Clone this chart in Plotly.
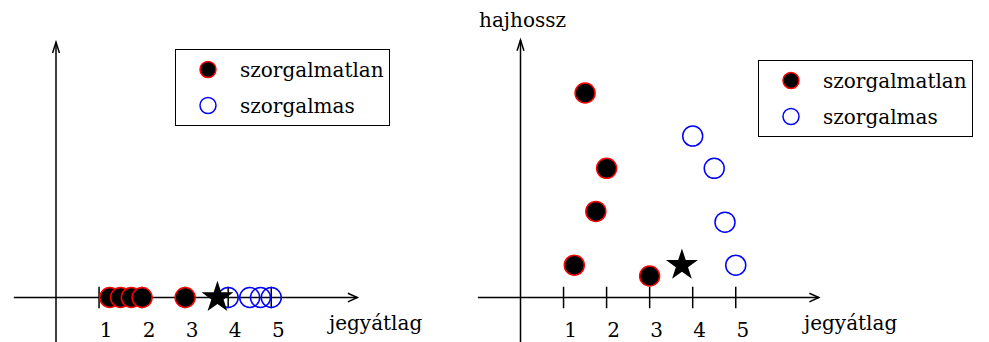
import plotly.graph_objects as go

# jegyátlag (grade average) and hajhossz (hair length) per student
lazy_grade = [1.25, 1.5, 1.75, 2.0, 3.0]
lazy_hair = [0.75, 4.75, 2.0, 3.0, 0.5]
diligent_grade = [4.0, 4.5, 4.75, 5.0]
diligent_hair = [3.75, 3.0, 1.75, 0.75]
query_grade = [3.75]
query_hair = [0.75]

tick_vals = [1, 2, 3, 4, 5]
tick_text = ["1", "2", "3", "4", "5"]

lazy_name = "szorgalmatlan"
diligent_name = "szorgalmas"
x_title = "jegyátlag"
y_title = "hajhossz"

W, H = 989, 342
SCALE = 43.05          # pixels per data unit, both panels
Y0_PX = 297.5          # pixel row of the horizontal axis
FONT = "DejaVu Serif"

yrange = [-(H - Y0_PX) / SCALE, Y0_PX / SCALE]


def xr(px0, px1, origin):
    return [(px0 - origin) / SCALE, (px1 - origin) / SCALE]


fig = go.Figure()

lazy_marker = dict(symbol="circle", size=20, color="black",
                   line=dict(color="red", width=1.5))
diligent_marker = dict(symbol="circle-open", size=20, color="blue",
                       line=dict(color="blue", width=1.5))
star_marker = dict(symbol="star", size=24, color="black",
                   line=dict(color="black", width=0))

# left panel: one-dimensional view (grades only)
fig.add_trace(go.Scatter(x=lazy_grade, y=[0] * len(lazy_grade), mode="markers",
                         marker=lazy_marker, name=lazy_name, xaxis="x", yaxis="y",
                         legend="legend", legendgroup="a", cliponaxis=False))
fig.add_trace(go.Scatter(x=diligent_grade, y=[0] * len(diligent_grade), mode="markers",
                         marker=diligent_marker, name=diligent_name, xaxis="x", yaxis="y",
                         legend="legend", legendgroup="b", cliponaxis=False))
fig.add_trace(go.Scatter(x=query_grade, y=[0] * len(query_grade), mode="markers",
                         marker=star_marker, showlegend=False, xaxis="x", yaxis="y",
                         cliponaxis=False))

# right panel: grade vs hair length
fig.add_trace(go.Scatter(x=lazy_grade, y=lazy_hair, mode="markers",
                         marker=lazy_marker, name=lazy_name, xaxis="x2", yaxis="y2",
                         legend="legend2", legendgroup="c", cliponaxis=False))
fig.add_trace(go.Scatter(x=diligent_grade, y=diligent_hair, mode="markers",
                         marker=diligent_marker, name=diligent_name, xaxis="x2", yaxis="y2",
                         legend="legend2", legendgroup="d", cliponaxis=False))
fig.add_trace(go.Scatter(x=query_grade, y=query_hair, mode="markers",
                         marker=star_marker, showlegend=False, xaxis="x2", yaxis="y2",
                         cliponaxis=False))

axis_pos = 1 - Y0_PX / H
common_x = dict(showgrid=False, zeroline=False, showline=False, ticks="",
                tickvals=tick_vals, ticktext=tick_text, anchor="free",
                position=axis_pos, ticklabelshift=7, ticklabelstandoff=18,
                tickfont=dict(family=FONT, size=20, color="black"),
                automargin=False, fixedrange=True)
common_y = dict(visible=False, range=yrange, domain=[0, 1], fixedrange=True,
                automargin=False)

legend_style = dict(xanchor="left", yanchor="top", bgcolor="white",
                    bordercolor="black", borderwidth=1,
                    font=dict(family=FONT, size=20, color="black"),
                    itemwidth=54, tracegroupgap=7)

fig.update_layout(
    width=W, height=H, margin=dict(l=0, r=0, t=0, b=0, autoexpand=False),
    paper_bgcolor="white", plot_bgcolor="rgba(0,0,0,0)",
    xaxis=dict(common_x, domain=[0, 440 / W], range=xr(0, 440, 56)),
    yaxis=common_y,
    xaxis2=dict(common_x, domain=[450 / W, 1], range=xr(450, W, 520.5)),
    yaxis2=dict(common_y, anchor="x2"),
    legend=dict(legend_style, x=175 / W, y=1 - 49 / H),
    legend2=dict(legend_style, x=758 / W, y=1 - 60 / H),
)

LINE = dict(color="black", width=1.5)


def draw_axes(xref, yref, x_start, x_end, y_bottom, y_top):
    # horizontal axis with open arrowhead
    fig.add_shape(type="line", xref=xref, yref=yref, x0=x_start, y0=0, x1=x_end, y1=0,
                  line=LINE, layer="below")
    fig.add_shape(type="path", xref=xref, yref=yref, layer="below", line=LINE,
                  path=f"M {x_end - 0.22},{0.1} L {x_end},0 L {x_end - 0.22},{-0.1}")
    # vertical axis with open arrowhead
    fig.add_shape(type="line", xref=xref, yref=yref, x0=0, y0=y_bottom, x1=0, y1=y_top,
                  line=LINE, layer="below")
    fig.add_shape(type="path", xref=xref, yref=yref, layer="below", line=LINE,
                  path=f"M {-0.08},{y_top - 0.25} L 0,{y_top} L {0.08},{y_top - 0.25}")
    # tick marks crossing the horizontal axis
    for t in tick_vals:
        fig.add_shape(type="line", xref=xref, yref=yref, x0=t, y0=-0.25, x1=t, y1=0.25,
                      line=LINE, layer="below")


draw_axes("x", "y", -0.98, 7.0, yrange[0], 5.93)
draw_axes("x2", "y2", -0.99, 6.93, yrange[0], 5.98)

title_font = dict(family=FONT, size=20, color="black")
fig.add_annotation(x=6.25, y=-0.6, xref="x", yref="y", text=x_title, showarrow=False,
                   xanchor="left", yanchor="middle", font=title_font)
fig.add_annotation(x=6.49, y=-0.6, xref="x2", yref="y2", text=x_title, showarrow=False,
                   xanchor="left", yanchor="middle", font=title_font)
fig.add_annotation(x=-1.01, y=6.45, xref="x2", yref="y2", text=y_title, showarrow=False,
                   xanchor="left", yanchor="middle", font=title_font)

fig.write_html("out.html")
